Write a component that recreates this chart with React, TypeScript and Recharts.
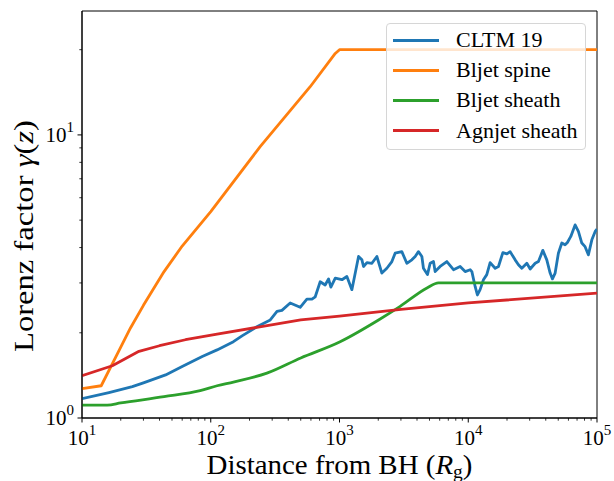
import React from 'react';
import { LineChart, Line, XAxis, YAxis, Legend, ReferenceArea } from 'recharts';

const FONT = "'Liberation Serif', 'DejaVu Serif', serif";

// ---- data ----
const cltmX = [10, 16.2, 24.6, 30, 44.6, 60, 85.9, 112, 150, 175, 228, 290, 327, 357, 414, 495, 558, 611, 648, 708, 774, 822, 857, 927, 1045, 1141, 1248, 1406, 1493, 1537, 1633, 1786, 1951, 2133, 2333, 2552, 2705, 3048, 3334, 3648, 3872, 4105, 4363, 4487, 4822, 5058, 5370, 5530, 6050, 6820, 7680, 8650, 9460, 10350, 10670, 11320, 11780, 12360, 13120, 13930, 14790, 16180, 17170, 18570, 19950, 21150, 23130, 24540, 26060, 28510, 30270, 33100, 35100, 37950, 40740, 43250, 45080, 47300, 50130, 53300, 56500, 58900, 62600, 67600, 71700, 76200, 80800, 85700, 91200, 96800, 100000];
const cltmY = [1.17, 1.23, 1.29, 1.33, 1.42, 1.52, 1.65, 1.74, 1.86, 1.95, 2.10, 2.22, 2.38, 2.40, 2.55, 2.46, 2.63, 2.63, 2.68, 3.03, 2.95, 3.10, 2.90, 3.12, 3.08, 3.16, 2.84, 3.72, 3.62, 3.43, 3.54, 3.52, 3.72, 3.25, 3.38, 3.57, 3.82, 3.87, 3.52, 3.62, 3.72, 3.87, 3.72, 3.38, 3.21, 3.52, 3.57, 3.29, 3.43, 3.57, 3.34, 3.43, 3.29, 3.34, 3.29, 2.91, 2.72, 2.84, 3.08, 3.21, 3.54, 3.38, 3.43, 3.84, 3.80, 3.87, 3.62, 3.48, 3.38, 3.52, 3.36, 3.52, 3.57, 3.91, 3.62, 3.25, 3.10, 3.25, 3.82, 4.15, 4.09, 4.17, 4.38, 4.81, 4.56, 4.15, 4.03, 3.77, 4.26, 4.56, 4.65];

const spineX = [10, 14.1, 20, 23.8, 30, 43.4, 60, 100, 242, 592, 927, 1000, 100000];
const spineY = [1.27, 1.30, 1.78, 2.08, 2.50, 3.29, 4.05, 5.36, 9.09, 14.8, 19.4, 20, 20];

const bljetSheathX = [10, 15.7, 20, 43.4, 82.8, 112, 150, 273, 500, 1011, 2010, 2960, 4780, 5870, 100000];
const bljetSheathY = [1.11, 1.11, 1.13, 1.19, 1.25, 1.30, 1.34, 1.44, 1.63, 1.86, 2.22, 2.48, 2.88, 3.0, 3.0];

const agnSheathX = [10, 17.2, 27.7, 40, 63.6, 112, 228, 500, 1000, 3000, 10000, 100000];
const agnSheathY = [1.41, 1.53, 1.72, 1.80, 1.89, 1.98, 2.09, 2.22, 2.29, 2.42, 2.55, 2.76];

const seriesNames = ['CLTM 19', 'Bljet spine', 'Bljet sheath', 'Agnjet sheath'];
const seriesColors = ['#1f77b4', '#ff7f0e', '#2ca02c', '#d62728'];
const seriesCurves = ['linear', 'linear', 'monotoneX', 'linear'];

const xTicks = [10, 20, 30, 40, 50, 60, 70, 80, 90, 100, 200, 300, 400, 500, 600, 700, 800, 900, 1000, 2000, 3000, 4000, 5000, 6000, 7000, 8000, 9000, 10000, 20000, 30000, 40000, 50000, 60000, 70000, 80000, 90000, 100000];
const yTicks = [1, 2, 3, 4, 5, 6, 7, 8, 9, 10, 20];
const xDomain = [10, 100000];
const yDomain = [1, 27.4];

const toPoints = (xs: number[], ys: number[]) => xs.map((x, i) => ({ x, y: ys[i] }));
const seriesData = [
  toPoints(cltmX, cltmY),
  toPoints(spineX, spineY),
  toPoints(bljetSheathX, bljetSheathY),
  toPoints(agnSheathX, agnSheathY),
];

const isMajor = (v: number) => Math.abs(Math.log10(v) - Math.round(Math.log10(v))) < 1e-9;

const XTick = (props: any) => {
  const { x, y, payload } = props;
  const v = payload.value;
  const major = isMajor(v);
  const exp = Math.round(Math.log10(v));
  return (
    <g>
      <line x1={x} x2={x} y1={y} y2={y + (major ? 4.5 : 2.7)} stroke="#000" strokeWidth={major ? 1 : 0.8} />
      {major && (
        <text x={x} y={y + 27} textAnchor="middle" fontFamily={FONT} fontSize={21} fill="#000">
          10<tspan dy={-10} fontSize={15}>{exp}</tspan>
        </text>
      )}
    </g>
  );
};

const YTick = (props: any) => {
  const { x, y, payload } = props;
  const v = payload.value;
  const major = isMajor(v);
  const exp = Math.round(Math.log10(v));
  return (
    <g>
      <line x1={x - (major ? 4.5 : 2.7)} x2={x} y1={y} y2={y} stroke="#000" strokeWidth={major ? 1 : 0.8} />
      {major && (
        <text x={x - 8} y={y + 7} textAnchor="end" fontFamily={FONT} fontSize={21} fill="#000">
          10<tspan dy={-10} fontSize={15}>{exp}</tspan>
        </text>
      )}
    </g>
  );
};

const XLabel = () => (
  <text
    x={339.5}
    y={474}
    textAnchor="middle"
    fontFamily={FONT}
    fontSize={26.7}
    fill="#000"
    textLength={266}
    lengthAdjust="spacingAndGlyphs"
  >
    Distance from BH (<tspan fontStyle="italic">R</tspan>
    <tspan fontSize={18} dy={4}>g</tspan>
    <tspan dy={-4}>)</tspan>
  </text>
);

const YLabel = () => (
  <text
    x={33}
    y={236}
    transform="rotate(-90 33 236)"
    textAnchor="middle"
    fontFamily={FONT}
    fontSize={26.7}
    fill="#000"
    textLength={232}
    lengthAdjust="spacingAndGlyphs"
  >
    Lorenz factor <tspan fontStyle="italic">γ</tspan>(<tspan fontStyle="italic">z</tspan>)
  </text>
);

const LegendBox = () => (
  <div
    style={{
      position: 'relative',
      boxSizing: 'border-box',
      width: 200,
      height: 127,
      border: '1px solid #d6d6d6',
      borderRadius: 4,
      background: 'rgba(255,255,255,0.8)',
      fontFamily: FONT,
    }}
  >
    {seriesNames.map((name, i) => (
      <div key={name} style={{ position: 'absolute', left: 0, top: 16 + i * 30.2 - 15, height: 30, width: 200 }}>
        <div
          style={{
            position: 'absolute',
            left: 6,
            top: 13.5,
            width: 46,
            height: 3,
            background: seriesColors[i],
          }}
        />
        <div
          style={{
            position: 'absolute',
            left: 69,
            top: 0,
            height: 30,
            lineHeight: '30px',
            fontSize: 22,
            color: '#000',
            whiteSpace: 'nowrap',
          }}
        >
          {name}
        </div>
      </div>
    ))}
  </div>
);

export default function App() {
  return (
    <div style={{ position: 'fixed', left: 0, top: 0, width: 614, height: 481, overflow: 'hidden', background: '#fff' }}>
      <LineChart width={614} height={481} margin={{ top: 11, right: 17, left: 8, bottom: 0 }}>
        <XAxis
          dataKey="x"
          type="number"
          scale="log"
          domain={xDomain}
          allowDataOverflow
          ticks={xTicks}
          interval={0}
          tickSize={0}
          tickMargin={0}
          tickLine={false}
          axisLine={{ stroke: '#000', strokeWidth: 1 }}
          tick={(p: any) => <XTick {...p} />}
          height={63}
          label={{ content: () => <XLabel /> }}
        />
        <YAxis
          type="number"
          scale="log"
          domain={yDomain}
          allowDataOverflow
          ticks={yTicks}
          interval={0}
          tickSize={0}
          tickMargin={0}
          tickLine={false}
          axisLine={{ stroke: '#000', strokeWidth: 1 }}
          tick={(p: any) => <YTick {...p} />}
          width={74}
          label={{ content: () => <YLabel /> }}
        />
        <ReferenceArea
          x1={xDomain[0]}
          x2={xDomain[1]}
          y1={yDomain[0]}
          y2={yDomain[1]}
          fill="none"
          fillOpacity={0}
          stroke="#000"
          strokeWidth={1}
          strokeOpacity={1}
        />
        {seriesData.map((d, i) => (
          <Line
            key={seriesNames[i]}
            data={d}
            dataKey="y"
            name={seriesNames[i]}
            type={seriesCurves[i] as any}
            stroke={seriesColors[i]}
            strokeWidth={2.8}
            strokeLinejoin="round"
            dot={false}
            activeDot={false}
            isAnimationActive={false}
          />
        ))}
        <Legend
          layout="vertical"
          align="center"
          verticalAlign="middle"
          wrapperStyle={{ position: 'absolute', left: 386, top: 23, width: 200, height: 127, margin: 0 }}
          content={() => <LegendBox />}
        />
      </LineChart>
    </div>
  );
}
